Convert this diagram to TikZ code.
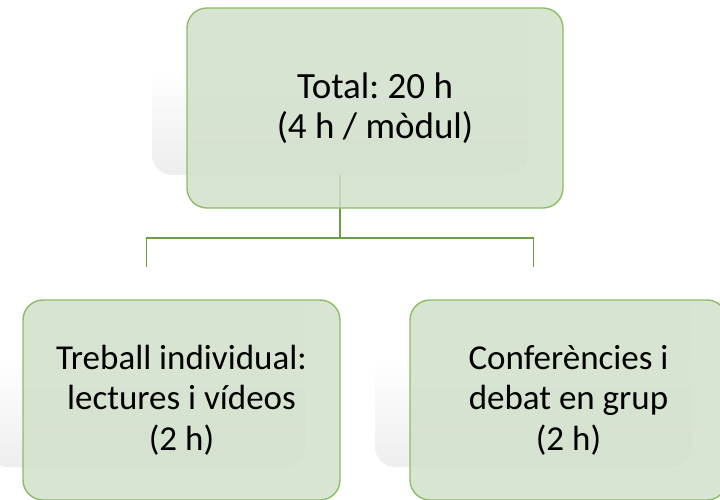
\documentclass[tikz,border=0pt]{standalone}
\usepackage{fontspec}
\setmainfont{Carlito}
\frenchspacing
\usetikzlibrary{calc}
\definecolor{boxfill}{RGB}{210,224,203}
\definecolor{boxline}{RGB}{137,190,100}
\definecolor{connline}{RGB}{108,158,72}
\pgfdeclareverticalshading{fadegray}{100bp}{color(0bp)=(black!12); color(12bp)=(black!10); color(52bp)=(white); color(100bp)=(white)}
\begin{document}
\begin{tikzpicture}[x=1pt,y=1pt,
  shadowbox/.style={shading=fadegray, rounded corners=20pt, inner sep=0pt, minimum height=200pt},
  greenbox/.style={fill=boxfill, fill opacity=0.85, text opacity=1, draw=boxline, line width=1.4pt,
    rounded corners=20pt, inner sep=0pt, minimum height=200pt, align=center},
  bigtext/.style={font=\fontsize{37}{40.5}\selectfont},
  smalltext/.style={font=\fontsize{35}{40.5}\selectfont},
  conn/.style={draw=connline, line width=1.8pt}
]
\useasboundingbox (0,0) rectangle (720,499);
\clip (0,0) rectangle (720,499);
% background shapes
\node[shadowbox, shade, minimum width=376pt] (g0) at (340,424) {};
\node[shadowbox, shade, minimum width=317pt] (g1) at (146.5,132) {};
\node[shadowbox, shade, minimum width=317pt] (g2) at (533.5,132) {};
% connectors
\coordinate (hub) at ($(g0.south)+(0,-63)$);
\draw[conn] (g0.south) -- (hub);
\draw[conn] (hub) -| (g1.north);
\draw[conn] (hub) -| (g2.north);
% text boxes
\node[greenbox, bigtext, minimum width=376pt] (t0) at ($(g0)+(35,-33)$) {Total: 20 h\\(4 h / mòdul)};
\node[greenbox, smalltext, minimum width=317pt] (t1) at ($(g1)+(35,-33)$) {Treball individual:\\lectures i vídeos\\(2 h)};
\node[greenbox, smalltext, minimum width=317pt] (t2) at ($(g2)+(35,-33)$) {Conferències i\\debat en grup\\(2 h)};
\end{tikzpicture}
\end{document}
